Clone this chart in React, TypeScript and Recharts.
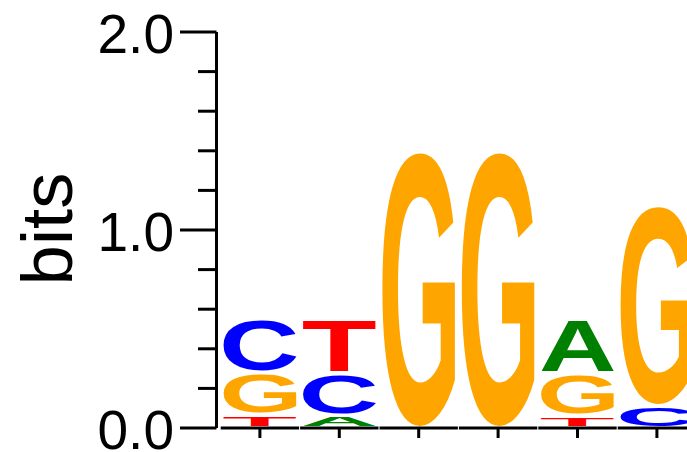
import React from 'react';
import { BarChart, Bar, XAxis, YAxis } from 'recharts';

// ---- data (bits per letter at each position) ----
const positions = ['1', '2', '3', '4', '5', '6'];
const bitsA = [0, 0.064, 0, 0, 0.274, 0];
const bitsC = [0.272, 0.212, 0, 0, 0, 0.111];
const bitsG = [0.211, 0, 1.4, 1.4, 0.215, 1.017];
const bitsT = [0.066, 0.276, 0, 0, 0.061, 0];
const yTicks = [0, 0.2, 0.4, 0.6, 0.8, 1.0, 1.2, 1.4, 1.6, 1.8, 2.0];

const LETTERS = ['A', 'C', 'G', 'T'];
const SERIES: Record<string, number[]> = { A: bitsA, C: bitsC, G: bitsG, T: bitsT };
const COLORS: Record<string, string> = { A: '#008000', C: '#0000FF', G: '#FFA500', T: '#FF0000' };

// stack rows: smallest letter at the bottom
const rows = positions.map((p, i) => {
  const sorted = LETTERS.map((l) => ({ l, v: SERIES[l][i] })).sort((a, b) => a.v - b.v);
  const row: any = { pos: p };
  sorted.forEach((s, r) => {
    row['v' + r] = s.v;
    row['l' + r] = s.l;
  });
  return row;
});

// ---- layout ----
const CW = 700;
const CH = 452;
const YW = 216.5;
const MR = 3.4;
const PADL = 3.7;
const BAND = (CW - MR - YW - PADL) / positions.length;
const FONT = '"Liberation Sans", Arial, Helvetica, sans-serif';

const inkCache: Record<string, { l: number; r: number; t: number; b: number }> = {};
function ink(letter: string) {
  if (!inkCache[letter]) {
    const ctx = document.createElement('canvas').getContext('2d')!;
    ctx.font = `bold 200px ${FONT}`;
    const m = ctx.measureText(letter);
    inkCache[letter] = {
      l: -m.actualBoundingBoxLeft,
      r: m.actualBoundingBoxRight,
      t: -m.actualBoundingBoxAscent,
      b: m.actualBoundingBoxDescent,
    };
  }
  return inkCache[letter];
}

const makeShape = (rank: number) => (props: any) => {
  const { x, y, width, height, payload } = props;
  const letter = payload && payload['l' + rank];
  const gh = height - 4;
  if (!letter || !(gh > 0.5)) return <g />;
  const gx = x + 3.3;
  const gw = width - 6;
  const gy = y + 2;
  const b = ink(letter);
  const sx = gw / (b.r - b.l);
  const sy = gh / (b.b - b.t);
  return (
    <text
      transform={`translate(${gx},${gy}) scale(${sx},${sy}) translate(${-b.l},${-b.t})`}
      fontFamily={FONT}
      fontWeight="bold"
      fontSize={200}
      fill={COLORS[letter]}
    >
      {letter}
    </text>
  );
};

const YTick = (props: any) => {
  const { x, y, payload } = props;
  const v = payload.value as number;
  const major = Math.abs(v - Math.round(v)) < 1e-6;
  return (
    <g>
      <line x1={x - (major ? 36.5 : 18.5)} x2={x} y1={y} y2={y} stroke="#000" strokeWidth={3} />
      {major && (
        <text x={x - 42.5} y={y + 20.5} textAnchor="end" fontSize={55} fontFamily={FONT} fill="#000">
          {v.toFixed(1)}
        </text>
      )}
    </g>
  );
};

const XTick = (props: any) => {
  const { x, y } = props;
  const half = BAND / 2 - 0.5;
  return (
    <g>
      <line x1={x - half} x2={x + half} y1={y} y2={y} stroke="#000" strokeWidth={3} />
      <line x1={x} x2={x} y1={y} y2={y + 10} stroke="#000" strokeWidth={3} />
    </g>
  );
};

export default function App() {
  return (
    <div style={{ position: 'absolute', left: 0, top: 0, width: 687, height: 452, overflow: 'hidden', background: '#fff' }}>
      <BarChart
        width={CW}
        height={CH}
        data={rows}
        margin={{ top: 32, right: MR, bottom: 0, left: 0 }}
        barCategoryGap={0}
        barGap={0}
      >
        <XAxis
          dataKey="pos"
          height={24}
          padding={{ left: PADL, right: 0 }}
          axisLine={false}
          tickLine={false}
          tickSize={0}
          tickMargin={0}
          interval={0}
          tick={<XTick />}
        />
        <YAxis
          type="number"
          domain={[0, 2]}
          ticks={yTicks}
          width={YW}
          interval={0}
          axisLine={{ stroke: '#000', strokeWidth: 3 }}
          tickLine={false}
          tickSize={0}
          tickMargin={0}
          tick={<YTick />}
          label={{
            content: () => (
              <text
                transform="translate(71.7,229) rotate(-90)"
                textAnchor="middle"
                fontSize={72.5}
                fontFamily={FONT}
                fill="#000"
              >
                bits
              </text>
            ),
          }}
        />
        {[0, 1, 2, 3].map((r) => (
          <Bar key={r} dataKey={'v' + r} stackId="s" isAnimationActive={false} shape={makeShape(r)} />
        ))}
      </BarChart>
    </div>
  );
}
